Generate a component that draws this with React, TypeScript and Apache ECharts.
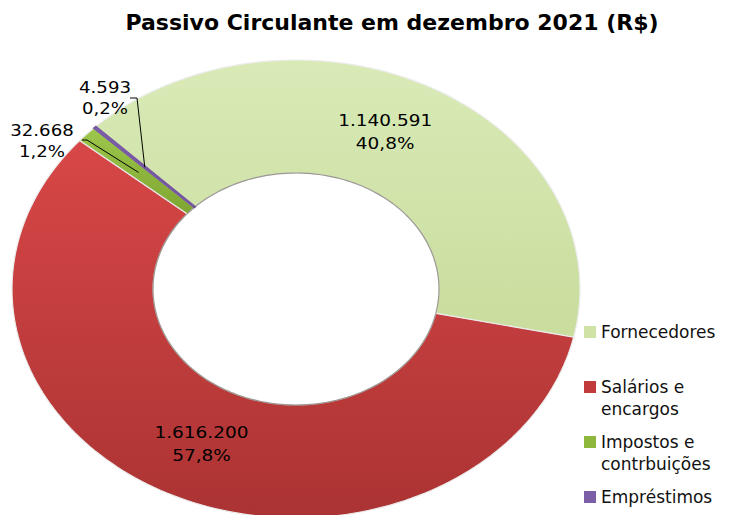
import React, { useEffect, useRef } from "react";
import * as echarts from "echarts";

const categories = ["Fornecedores", "Salários e encargos", "Impostos e contrbuições", "Empréstimos"];
const legendLabels = ["Fornecedores", "Salários e\nencargos", "Impostos e\ncontrbuições", "Empréstimos"];
const values = [1140591, 1616200, 32668, 4593];
const titleText = "Passivo Circulante em dezembro 2021 (R$)";

const baseColors = ["#cfe3a6", "#c23b3b", "#8db83c", "#7c5ea6"];
const gradientStops = [
  ["#d9eab7", "#c9dd9d"],
  ["#d84747", "#ab3333"],
  ["#9dc74b", "#7ea531"],
  ["#8b6db5", "#6b5093"],
];
const edgeColors = ["#ececec", "#ececec", "#e4e4e4", "#7457a0"];

// layout of the elliptical donut
const OUTER = { cx: 296, cy: 289, rx: 284, ry: 229 };
const INNER = { cx: 296, cy: 289, rx: 143, ry: 116 };
const START_DEG = 315.2; // clockwise from 12 o'clock

const FONT = "DejaVu Sans";

function fmtThousands(v: number) {
  return String(Math.round(v)).replace(/\B(?=(\d{3})+(?!\d))/g, ".");
}
function fmtPct(v: number, total: number) {
  return ((v / total) * 100).toFixed(1).replace(".", ",") + "%";
}
function ringPoint(e: { cx: number; cy: number; rx: number; ry: number }, deg: number) {
  const a = (deg * Math.PI) / 180;
  return [e.cx + e.rx * Math.sin(a), e.cy - e.ry * Math.cos(a)];
}

// label placement for the thin slices (outside, with leader lines)
const outsideLabel: Record<number, { x: number; y: number; elbow: number[][] }> = {
  2: { x: 42, y: 141, elbow: [[82, 140], [87, 140]] },
  3: { x: 105, y: 98, elbow: [[130, 98], [137, 98]] },
};
// small angular nudge (deg) of the inside labels
const labelAngleShift = [-4, 0, 0, 0];

export default function App() {
  const ref = useRef<HTMLDivElement>(null);

  useEffect(() => {
    document.body.style.margin = "0";
    if (!ref.current) return;
    const chart = echarts.init(ref.current, undefined, { renderer: "svg" });
    const total = values.reduce((s, x) => s + x, 0);

    const renderItem = (params: any, api: any) => {
      const i = params.seriesIndex;
      const v = api.value(0);
      const before = values.slice(0, i).reduce((s, x) => s + x, 0);
      const a0 = START_DEG + (before / total) * 360;
      const a1 = a0 + (v / total) * 360;
      const n = Math.max(2, Math.ceil((a1 - a0) / 1.5));
      const outerPts: number[][] = [];
      const innerPts: number[][] = [];
      for (let k = 0; k <= n; k++) {
        const a = a0 + ((a1 - a0) * k) / n;
        outerPts.push(ringPoint(OUTER, a));
        innerPts.push(ringPoint(INNER, a));
      }
      const pts = outerPts.concat(innerPts.slice().reverse());
      const children: any[] = [
        {
          type: "polygon",
          shape: { points: pts },
          style: {
            fill: new echarts.graphic.LinearGradient(0, 0, 0, 1, [
              { offset: 0, color: gradientStops[i][0] },
              { offset: 1, color: gradientStops[i][1] },
            ]),
            stroke: edgeColors[i],
            lineWidth: i === 3 ? 1.6 : 1.2,
          },
        },
        {
          type: "polyline",
          shape: { points: innerPts },
          style: { fill: "none", stroke: "rgba(60,50,40,0.45)", lineWidth: 1.2 },
        },
      ];
      const mid = (a0 + a1) / 2 + labelAngleShift[i];
      const po = ringPoint(OUTER, mid);
      const pi = ringPoint(INNER, mid);
      const text = fmtThousands(v) + "\n" + fmtPct(v, total);
      if (outsideLabel[i]) {
        const L = outsideLabel[i];
        const anchor = [pi[0] + (po[0] - pi[0]) * 0.5, pi[1] + (po[1] - pi[1]) * 0.5];
        children.push({
          type: "polyline",
          shape: { points: [L.elbow[0], L.elbow[1], anchor] },
          style: { fill: "none", stroke: "#000", lineWidth: 1 },
        });
        children.push({
          type: "text",
          x: L.x,
          y: L.y,
          scaleX: 1.1,
          style: {
            text,
            fontFamily: FONT,
            fontSize: 16.5,
            lineHeight: 21,
            fill: "#000",
            align: "center",
            verticalAlign: "middle",
          },
        });
      } else {
        const c = [pi[0] + (po[0] - pi[0]) * 0.5, pi[1] + (po[1] - pi[1]) * 0.5];
        children.push({
          type: "text",
          x: c[0],
          y: c[1],
          scaleX: 1.12,
          style: {
            text,
            fontFamily: FONT,
            fontSize: 16.5,
            lineHeight: 23,
            fill: "#000",
            align: "center",
            verticalAlign: "middle",
          },
        });
      }
      return { type: "group", children };
    };

    const legendTops = [321, 354, 409, 486];
    const legends = legendLabels.map((name, i) => ({
      show: true,
      orient: "vertical" as const,
      left: 584,
      top: legendTops[i],
      padding: 0,
      itemWidth: 12,
      itemHeight: 12,
      icon: "rect",
      selectedMode: false,
      data: [name],
      formatter: (nm: string) => (nm.indexOf("\n") >= 0 ? "\n" + nm : nm),
      textStyle: {
        fontFamily: FONT,
        fontSize: 17,
        lineHeight: 22,
        color: "#111",
      },
    }));

    chart.setOption({
      animation: false,
      backgroundColor: "#ffffff",
      title: {
        text: titleText,
        left: 392,
        top: 11,
        padding: 0,
        textAlign: "center",
        textStyle: { fontFamily: FONT, fontWeight: "bold", fontSize: 22, color: "#000" },
      },
      legend: legends,
      series: categories.map((c, i) => ({
        type: "custom",
        name: legendLabels[i],
        coordinateSystem: "none",
        itemStyle: { color: baseColors[i] },
        renderItem,
        data: [{ name: c, value: [values[i]] }],
      })),
    });

    return () => chart.dispose();
  }, []);

  return <div ref={ref} style={{ width: 730, height: 515 }} />;
}
